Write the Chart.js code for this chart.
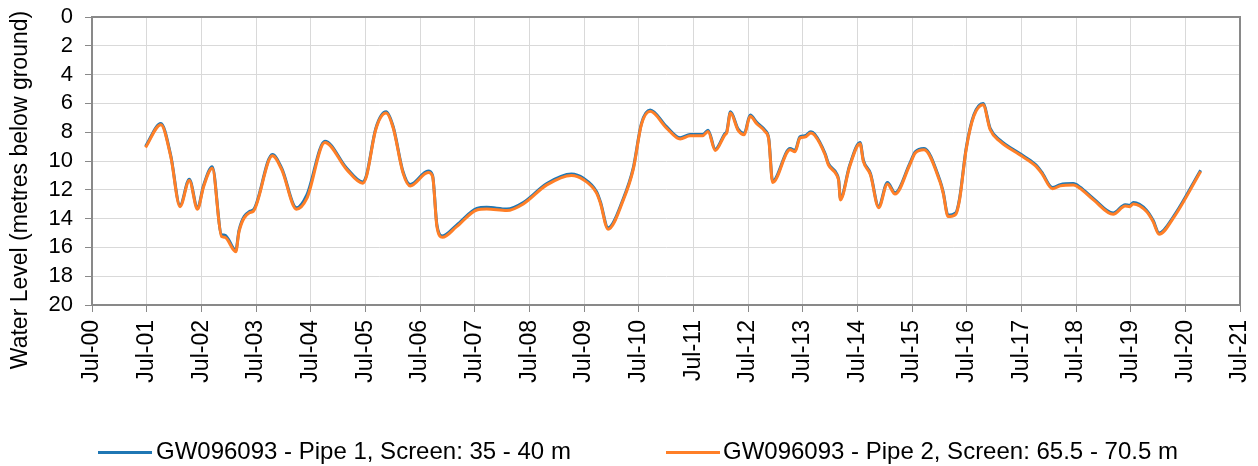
<!DOCTYPE html>
<html>
<head>
<meta charset="utf-8">
<script src="https://cdn.jsdelivr.net/npm/chart.js@4/dist/chart.umd.min.js"></script>
<style>
    body { margin: 0; background: #fff; }
    #wrap { position: relative; width: 1258px; height: 466px; overflow: hidden; }
    .txt { position: absolute; top: 439px; font: 24px "Liberation Sans", Arial, sans-serif; line-height: 24px; color: #000; white-space: nowrap; }
    .ln { position: absolute; top: 451px; width: 54px; height: 3px; }
</style>
</head>
<body>
<div id="wrap">
    <canvas id="chart" width="1258" height="466"></canvas>
    <div class="ln" style="left:98px;background:#1f77b4"></div>
    <div class="txt" style="left:156px">GW096093 - Pipe 1, Screen: 35 - 40 m</div>
    <div class="ln" style="left:666px;background:#ff7f27"></div>
    <div class="txt" style="left:723px">GW096093 - Pipe 2, Screen: 65.5 - 70.5 m</div>
</div>
<script>
// years since Jul-00
var years = [0.98, 1.26, 1.44, 1.61, 1.78, 1.93, 2.04, 2.20, 2.37, 2.43, 2.63, 2.69, 2.88, 2.95,
    3.30, 3.47, 3.74, 3.93, 4.26, 4.66, 4.95, 5.02, 5.19, 5.38, 5.51, 5.69, 5.82, 6.15, 6.23,
    6.31, 6.41, 6.67, 7.04, 7.22, 7.59, 7.89, 8.32, 8.77, 8.99, 9.23, 9.30, 9.44, 9.72, 9.90,
    10.05, 10.21, 10.51, 10.76, 10.94, 11.17, 11.27, 11.40, 11.58, 11.61, 11.68, 11.82, 11.93,
    12.04, 12.16, 12.31, 12.38, 12.45, 12.77, 12.86, 12.95, 13.04, 13.15, 13.22, 13.41, 13.47,
    13.62, 13.66, 13.69, 13.86, 14.05, 14.11, 14.24, 14.39, 14.55, 14.69, 14.96, 15.06, 15.22,
    15.51, 15.57, 15.66, 15.80, 15.87, 15.99, 16.13, 16.30, 16.43, 16.61, 16.97, 17.25, 17.37,
    17.57, 17.71, 17.95, 18.07, 18.32, 18.68, 18.90, 18.98, 19.05, 19.29, 19.41, 19.52, 19.78, 20.28];

var pipe2 = [9.06, 7.48, 9.69, 13.17, 11.36, 13.35, 11.8, 10.5, 15.25, 15.3, 16.3, 14.9, 13.6, 13.5,
    9.64, 10.6, 13.35, 12.6, 8.71, 10.6, 11.54, 11.08, 7.83, 6.67, 7.71, 10.84, 11.73, 10.8, 11.08,
    14.56, 15.3, 14.56, 13.4, 13.33, 13.44, 12.98, 11.66, 11.0, 11.3, 12.23, 12.93, 14.74, 12.7, 10.6,
    7.48, 6.55, 7.71, 8.48, 8.25, 8.25, 7.95, 9.27, 8.18, 8.06, 6.67, 7.88, 8.18,
    6.9, 7.41, 7.95, 8.52, 11.5, 9.22, 9.36, 8.41, 8.34, 8.06, 8.22, 9.57, 10.26,
    10.96, 11.43, 12.7, 10.38, 8.8, 10.03, 10.96, 13.24, 11.59, 12.3, 10.26, 9.45, 9.22,
    11.43, 12.23, 13.86, 13.7, 12.7, 9.22, 6.9, 6.09, 7.83, 8.64, 9.57, 10.31, 10.84,
    11.93, 11.73, 11.66, 11.89, 12.7, 13.7, 13.12, 13.17, 12.98, 13.51, 14.21, 15.09, 13.97, 10.73];

var pipe1 = [8.98, 7.40, 9.60, 13.08, 11.26, 13.26, 11.7, 10.4, 15.12, 15.15, 16.2, 14.8, 13.5, 13.4,
    9.55, 10.5, 13.25, 12.35, 8.62, 10.5, 11.45, 11.0, 7.75, 6.58, 7.62, 10.75, 11.64, 10.7, 11.0,
    14.45, 15.2, 14.45, 13.3, 13.22, 13.34, 12.88, 11.56, 10.9, 11.2, 12.13, 12.83, 14.64, 12.6, 10.5,
    7.40, 6.46, 7.62, 8.39, 8.16, 8.16, 7.86, 9.18, 8.09, 7.97, 6.58, 7.79, 8.09,
    6.81, 7.32, 7.86, 8.43, 11.4, 9.13, 9.27, 8.32, 8.25, 7.97, 8.13, 9.48, 10.17,
    10.87, 11.34, 12.6, 10.29, 8.71, 9.94, 10.87, 13.15, 11.5, 12.21, 10.17, 9.36, 9.13,
    11.34, 12.14, 13.77, 13.6, 12.6, 9.13, 6.81, 6.0, 7.74, 8.55, 9.48, 10.22, 10.75,
    11.84, 11.64, 11.57, 11.8, 12.61, 13.61, 13.03, 13.08, 12.89, 13.42, 14.12, 15.0, 13.88, 10.64];

var tickLabels = ['Jul-00', 'Jul-01', 'Jul-02', 'Jul-03', 'Jul-04', 'Jul-05', 'Jul-06', 'Jul-07',
    'Jul-08', 'Jul-09', 'Jul-10', 'Jul-11', 'Jul-12', 'Jul-13', 'Jul-14', 'Jul-15', 'Jul-16',
    'Jul-17', 'Jul-18', 'Jul-19', 'Jul-20', 'Jul-21'];

var yTitle = 'Water Level (metres below ground)';

function toPoints(vals) {
    return vals.map(function (v, i) { return { x: years[i], y: v }; });
}

Chart.defaults.font.family = "'Liberation Sans', Arial, sans-serif";
Chart.defaults.color = '#000';

// box around plot and the y title
var frame = {
    id: 'frame',
    afterDraw: function (chart) {
        var ctx = chart.ctx, a = chart.chartArea;
        ctx.save();
        ctx.strokeStyle = '#898989';
        ctx.lineWidth = 2;
        ctx.strokeRect(a.left, a.top, a.right - a.left, a.bottom - a.top);
        ctx.translate(21, 190);
        ctx.rotate(-Math.PI / 2);
        ctx.textAlign = 'center';
        ctx.textBaseline = 'middle';
        ctx.fillStyle = '#000';
        ctx.font = "23px 'Liberation Sans', Arial, sans-serif";
        ctx.fillText(yTitle, 0, 0);
        ctx.restore();
    }
};

new Chart(document.getElementById('chart'), {
    type: 'line',
    data: {
        datasets: [{
            label: 'GW096093 - Pipe 1, Screen: 35 - 40 m',
            data: toPoints(pipe1),
            borderColor: '#1f77b4',
            backgroundColor: '#1f77b4',
            borderWidth: 3,
            pointRadius: 0,
            cubicInterpolationMode: 'monotone',
            order: 2
        }, {
            label: 'GW096093 - Pipe 2, Screen: 65.5 - 70.5 m',
            data: toPoints(pipe2),
            borderColor: '#ff7f27',
            backgroundColor: '#ff7f27',
            borderWidth: 3,
            pointRadius: 0,
            cubicInterpolationMode: 'monotone',
            order: 1
        }]
    },
    options: {
        responsive: false,
        animation: false,
        devicePixelRatio: 1,
        layout: { padding: { top: 17, right: 18, left: 0, bottom: 0 } },
        plugins: { legend: { display: false }, tooltip: { enabled: false } },
        scales: {
            x: {
                type: 'linear',
                min: 0,
                max: 21,
                afterFit: function (s) { s.height = 161; s.paddingRight = 0; s.paddingLeft = 0; },
                ticks: {
                    stepSize: 1,
                    autoSkip: false,
                    maxRotation: 90,
                    minRotation: 90,
                    padding: 8,
                    font: { size: 23 },
                    callback: function (v) { return tickLabels[Math.round(v)]; }
                },
                grid: { color: '#d9d9d9', tickColor: '#898989', tickLength: 7 },
                border: { color: '#898989', width: 2 }
            },
            y: {
                reverse: true,
                min: 0,
                max: 20,
                afterFit: function (s) { s.width = 92; s.paddingTop = 0; s.paddingBottom = 0; },
                ticks: { stepSize: 2, autoSkip: false, padding: 12, font: { size: 22 } },
                grid: { color: '#d9d9d9', tickColor: '#898989', tickLength: 7 },
                border: { color: '#898989', width: 2 }
            }
        }
    },
    plugins: [frame]
});
</script>
</body>
</html>
